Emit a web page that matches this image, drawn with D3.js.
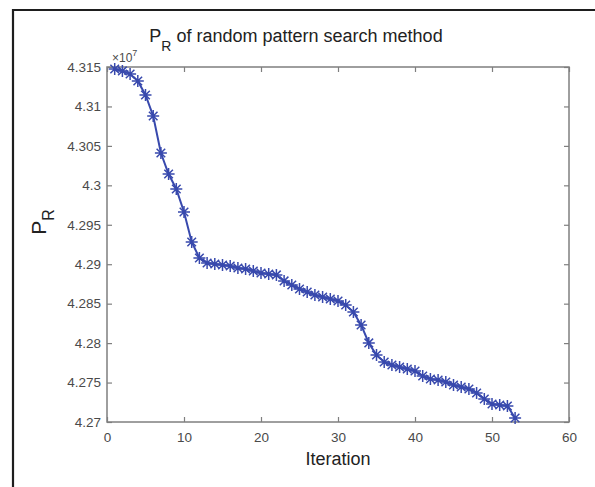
<!DOCTYPE html>
<html>
<head>
<meta charset="utf-8">
<script src="https://cdn.jsdelivr.net/npm/d3@7"></script>
<style>
	body { margin: 0; background: #fff; }
	text { font-family: "Liberation Sans", Arial, Helvetica, sans-serif; }
</style>
</head>
<body>
<script>
// values, units of 1e7
var iterations = [1,2,3,4,5,6,7,8,9,10,11,12,13,14,15,16,17,18,19,20,21,22,23,24,25,26,27,
	28,29,30,31,32,33,34,35,36,37,38,39,40,41,42,43,44,45,46,47,48,49,50,51,52,53];
var prValues = [4.31475, 4.3145, 4.31411, 4.31323, 4.31145, 4.30879, 4.30410, 4.30144, 4.29954, 4.29662,
	4.29282, 4.29079, 4.29016, 4.29003, 4.28990, 4.28978, 4.28952, 4.28940, 4.28914, 4.28889,
	4.28876, 4.28864, 4.28788, 4.28737, 4.28686, 4.28648, 4.28610, 4.28585, 4.28559, 4.28534,
	4.28483, 4.28394, 4.28230, 4.28002, 4.27849, 4.27761, 4.27723, 4.27697, 4.27672, 4.27647,
	4.27583, 4.27545, 4.27532, 4.27507, 4.27469, 4.27444, 4.27418, 4.27368, 4.27292, 4.27228,
	4.27216, 4.27203, 4.27051];
var xTicks = [0, 10, 20, 30, 40, 50, 60];
var yTicks = [4.27, 4.275, 4.28, 4.285, 4.29, 4.295, 4.3, 4.305, 4.31, 4.315];
var yTickLabels = ["4.27", "4.275", "4.28", "4.285", "4.29", "4.295", "4.3", "4.305", "4.31", "4.315"];

var WIDTH = 595;
var HEIGHT = 487;
var LEFT = 107, RIGHT = 569, TOP = 67, BOTTOM = 422;
var AXIS = "#7f7f7f";
var LABEL = "#4a4a4a";
var BLUE = "#3849ad";

var svg = d3.select("body")
			.append("svg")
			.attr("width", WIDTH)
			.attr("height", HEIGHT);

// outer frame (top + left only)
svg.append("path")
	.attr("d", "M13,487 V10 H595")
	.attr("fill", "none")
	.attr("stroke", "#1e1e1e")
	.attr("stroke-width", 2.2);

var x = d3.scaleLinear().domain([0, 60]).range([LEFT, RIGHT]);
var y = d3.scaleLinear().domain([4.27, 4.315]).range([BOTTOM, TOP]);

// ticks inside the box
var gx = svg.append("g")
	.attr("transform", "translate(0," + BOTTOM + ")")
	.call(d3.axisBottom(x).tickValues(xTicks).tickSizeInner(-5).tickSizeOuter(0).tickPadding(10));
var gy = svg.append("g")
	.attr("transform", "translate(" + LEFT + ",0)")
	.call(d3.axisLeft(y).tickValues(yTicks).tickSizeInner(-5).tickSizeOuter(0).tickPadding(6)
		.tickFormat(function(d, i) { return yTickLabels[i]; }));
var gxt = svg.append("g")
	.attr("transform", "translate(0," + TOP + ")")
	.call(d3.axisTop(x).tickValues(xTicks).tickSizeInner(-5).tickSizeOuter(0).tickFormat(""));
var gyr = svg.append("g")
	.attr("transform", "translate(" + RIGHT + ",0)")
	.call(d3.axisRight(y).tickValues(yTicks).tickSizeInner(-5).tickSizeOuter(0).tickFormat(""));

[gx, gy, gxt, gyr].forEach(function(g) {
	g.select(".domain").remove();
	g.selectAll("line").attr("stroke", AXIS).attr("stroke-width", 1.2);
	g.selectAll("text").attr("fill", LABEL).attr("font-size", 13.5)
		.attr("font-family", "'Liberation Sans', Arial, sans-serif");
});

svg.append("rect")
	.attr("x", LEFT)
	.attr("y", TOP)
	.attr("width", RIGHT - LEFT)
	.attr("height", BOTTOM - TOP)
	.attr("fill", "none")
	.attr("stroke", AXIS)
	.attr("stroke-width", 1.5);

// exponent
var ex = svg.append("text")
	.attr("x", LEFT + 5)
	.attr("y", TOP - 5)
	.attr("font-size", 12)
	.attr("fill", LABEL);
ex.append("tspan").text("\u00d710");
ex.append("tspan").attr("dy", -6).attr("font-size", 9).text("7");

// line + asterisk markers
var pts = iterations.map(function(d, i) { return [d, prValues[i]]; });

svg.append("path")
	.datum(pts)
	.attr("fill", "none")
	.attr("stroke", BLUE)
	.attr("stroke-width", 2)
	.attr("d", d3.line().x(function(d) { return x(d[0]); }).y(function(d) { return y(d[1]); }));

var r = 6, rd = 4.3;
var star = "M" + (-r) + ",0H" + r + "M0," + (-r) + "V" + r +
	"M" + (-rd) + "," + (-rd) + "L" + rd + "," + rd +
	"M" + (-rd) + "," + rd + "L" + rd + "," + (-rd);

svg.selectAll("path.mark")
	.data(pts)
	.enter()
	.append("path")
	.attr("class", "mark")
	.attr("d", star)
	.attr("transform", function(d) { return "translate(" + x(d[0]) + "," + y(d[1]) + ")"; })
	.attr("stroke", BLUE)
	.attr("stroke-width", 1.5)
	.attr("fill", "none");

// title
var t = svg.append("text")
	.attr("x", 296)
	.attr("y", 42)
	.attr("text-anchor", "middle")
	.attr("font-size", 18)
	.attr("fill", "#222");
t.append("tspan").text("P");
t.append("tspan").attr("dy", 9).attr("font-size", 14).text("R");
t.append("tspan").attr("dy", -9).text(" of random pattern search method");

// axis labels
svg.append("text")
	.attr("x", (LEFT + RIGHT) / 2)
	.attr("y", 465)
	.attr("text-anchor", "middle")
	.attr("font-size", 18)
	.attr("fill", "#222")
	.text("Iteration");

var yl = svg.append("text")
	.attr("transform", "translate(46,222) rotate(-90)")
	.attr("text-anchor", "middle")
	.attr("font-size", 21)
	.attr("fill", "#222");
yl.append("tspan").text("P");
yl.append("tspan").attr("dy", 8).attr("font-size", 16).text("R");
</script>
</body>
</html>
